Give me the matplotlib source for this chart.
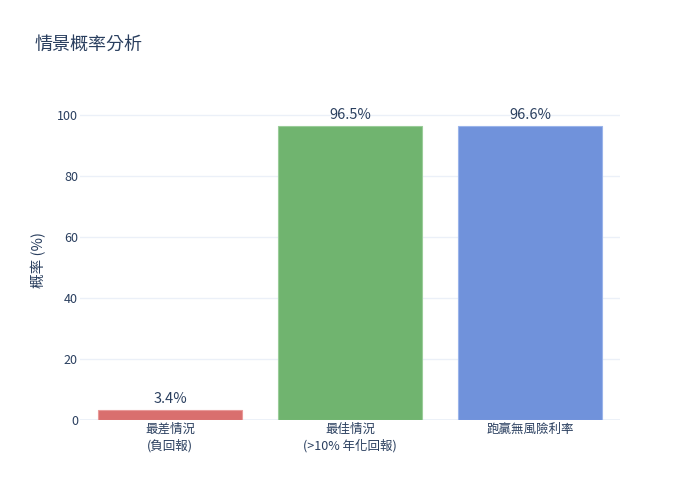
import matplotlib
matplotlib.use('Agg')
import matplotlib.pyplot as plt

plt.rcParams['font.family'] = ['Noto Sans CJK TC', 'DejaVu Sans']

categories = ['最差情況\n(負回報)', '最佳情況\n(>10% 年化回報)', '跑贏無風險利率']
values = [3.4, 96.5, 96.6]
labels = ['3.4%', '96.5%', '96.6%']
colors = ['#d96f6e', '#70b46f', '#7092db']
edge_colors = ['#e89a99', '#9acc99', '#9ab4ea']

text_color = '#2a3f5f'
grid_color = '#ebf0f8'

fig = plt.figure(figsize=(7, 5), dpi=100)
ax = fig.add_axes([80 / 700, 80 / 500, 540 / 700, 320 / 500])

x = list(range(len(categories)))
bars = ax.bar(x, values, width=0.8, color=colors, edgecolor=edge_colors,
              linewidth=0.8, zorder=3)
for b, v, t in zip(bars, values, labels):
    ax.text(b.get_x() + b.get_width() / 2, v + 1.2, t, ha='center', va='bottom',
            fontsize=10.5, color=text_color, zorder=4)

ax.set_xlim(-0.5, 2.5)
ax.set_ylim(0, 105)
ax.set_yticks([0, 20, 40, 60, 80, 100])
ax.set_xticks(x)
ax.set_xticklabels(categories, fontsize=9, color=text_color, linespacing=1.3)
ax.tick_params(axis='y', labelsize=9, labelcolor=text_color, length=0, pad=1.5)
ax.tick_params(axis='x', length=0, pad=2)
ax.grid(axis='y', color=grid_color, linewidth=1, zorder=0)
ax.axhline(0, color=grid_color, linewidth=2, zorder=2)
for s in ax.spines.values():
    s.set_visible(False)

ax.set_ylabel('概率 (%)', fontsize=10.5, color=text_color, labelpad=8)
fig.text(35 / 700, 1 - 45 / 500, '情景概率分析', fontsize=13, color=text_color,
         ha='left', va='center')

fig.savefig('out.png', dpi=100)
